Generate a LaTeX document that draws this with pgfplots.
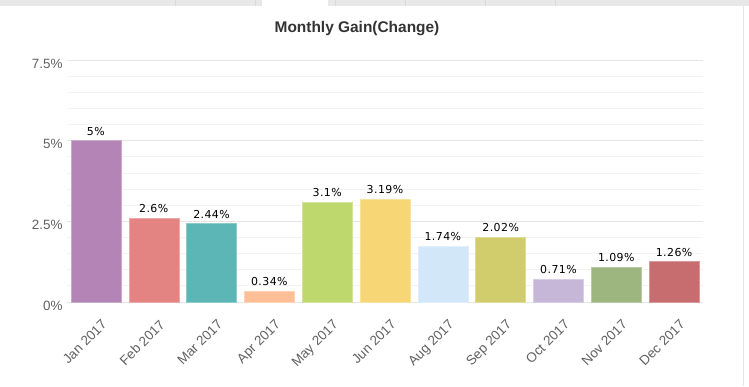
\documentclass[border=0pt]{standalone}
\usepackage{pgfplots}
\pgfplotsset{compat=1.18}
\usepackage{fontspec}
\setmainfont{Liberation Sans}
\newfontfamily\labelfont[LetterSpace=4]{DejaVu Sans}
\definecolor{cJan}{HTML}{B384B5}
\definecolor{cFeb}{HTML}{E48482}
\definecolor{cMar}{HTML}{5BB6B5}
\definecolor{cApr}{HTML}{FFBF96}
\definecolor{cMay}{HTML}{BED86E}
\definecolor{cJun}{HTML}{F7D675}
\definecolor{cAug}{HTML}{D2E7F8}
\definecolor{cSep}{HTML}{D1CC6C}
\definecolor{cOct}{HTML}{C6B7D8}
\definecolor{cNov}{HTML}{9DB680}
\definecolor{cDec}{HTML}{C76D6F}
\definecolor{tickgray}{HTML}{606060}
\begin{document}
\begin{tikzpicture}[x=1bp,y=1bp]
\useasboundingbox (0,0) rectangle (749,386);
% top tab strip
\fill[gray!18] (0,380) rectangle (749,386);
\fill[white] (262,380) rectangle (328,386);
\fill[gray!30] (175,380) rectangle (176,386);
\fill[gray!30] (255,380) rectangle (256,386);
\fill[gray!30] (335,380) rectangle (336,386);
\fill[gray!30] (405,380) rectangle (406,386);
\fill[gray!30] (485,380) rectangle (486,386);
\fill[gray!30] (555,380) rectangle (556,386);
\draw[gray!20, line width=1bp] (743,0) -- (743,380);
\node[font=\fontsize{15.5}{18}\selectfont\bfseries, text=black!80] at (357,357) {Monthly Gain(Change)};
\begin{axis}[
  at={(67bp,84bp)}, anchor=south west,
  scale only axis, width=636bp, height=242bp,
  xmin=-0.5, xmax=10.5, ymin=0, ymax=7.5,
  axis line style={draw=none},
  tick style={draw=none},
  xtick={0,...,10},
  xticklabels={Jan 2017,Feb 2017,Mar 2017,Apr 2017,May 2017,Jun 2017,Aug 2017,Sep 2017,Oct 2017,Nov 2017,Dec 2017},
  x tick label style={rotate=45, anchor=north east, font=\fontsize{13.5}{15}\selectfont, text=tickgray, yshift=-9bp, xshift=-2bp},
  ytick={0,2.5,5,7.5},
  yticklabels={0\%,2.5\%,5\%,7.5\%},
  y tick label style={font=\fontsize{13.5}{15}\selectfont, text=tickgray, xshift=-1bp, yshift=-3.5bp},
  minor ytick={0.5,1,...,7},
  ymajorgrids, yminorgrids,
  major grid style={draw=black!10, line width=1bp},
  minor grid style={draw=black!5, line width=0.8bp},
  /pgf/number format/assume math mode=true,
  ybar, bar width=0.865, bar shift=0pt,
  nodes near coords={\pgfmathprintnumber{\pgfplotspointmeta}\%},
  every node near coord/.append style={font=\labelfont\fontsize{11}{13}\selectfont, text=black, yshift=1.5bp},
  axis on top=false,
]
\addplot[fill=cJan, draw=cJan!70!white] coordinates {(0,5)};
\addplot[fill=cFeb, draw=cFeb!70!white] coordinates {(1,2.6)};
\addplot[fill=cMar, draw=cMar!70!white] coordinates {(2,2.44)};
\addplot[fill=cApr, draw=cApr!70!white] coordinates {(3,0.34)};
\addplot[fill=cMay, draw=cMay!70!white] coordinates {(4,3.1)};
\addplot[fill=cJun, draw=cJun!70!white] coordinates {(5,3.19)};
\addplot[fill=cAug, draw=cAug!70!white] coordinates {(6,1.74)};
\addplot[fill=cSep, draw=cSep!70!white] coordinates {(7,2.02)};
\addplot[fill=cOct, draw=cOct!70!white] coordinates {(8,0.71)};
\addplot[fill=cNov, draw=cNov!70!white] coordinates {(9,1.09)};
\addplot[fill=cDec, draw=cDec!70!white] coordinates {(10,1.26)};
\end{axis}
\end{tikzpicture}
\end{document}
